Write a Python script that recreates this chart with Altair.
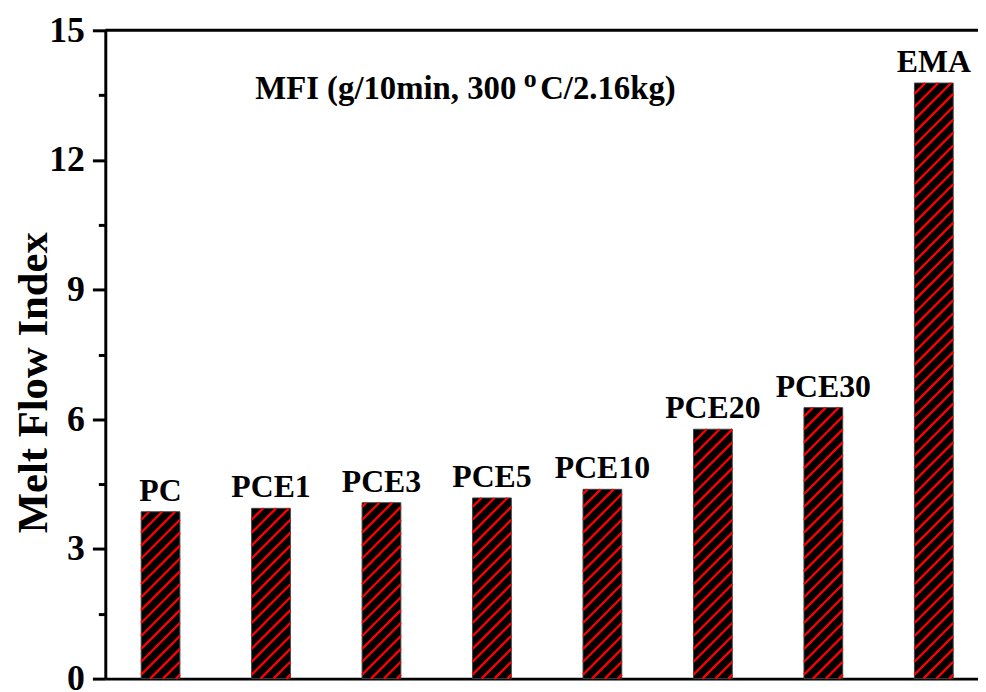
import altair as alt
import pandas as pd

# ---- data ----
categories = ["PC", "PCE1", "PCE3", "PCE5", "PCE10", "PCE20", "PCE30", "EMA"]
mfi = [3.86, 3.94, 4.07, 4.18, 4.38, 5.77, 6.27, 13.78]
y_ticks = [0, 1.5, 3, 4.5, 6, 7.5, 9, 10.5, 12, 13.5, 15]

# ---- layout constants ----
WIDTH, HEIGHT = 879, 653
XMIN, XMAX = -0.5, 7.4
YMAX = 15
SX = WIDTH / (XMAX - XMIN)
SY = HEIGHT / YMAX
BAR_HALF_PX = 19.5
HALF = BAR_HALF_PX / SX
SPACING = 13.0
FONT = "Liberation Serif"

bars = pd.DataFrame({
    "cat": categories,
    "idx": list(range(len(categories))),
    "value": mfi,
})
bars["xl"] = bars["idx"] - HALF
bars["xr"] = bars["idx"] + HALF
bars["zero"] = 0.0

# hatch segments (45 degrees in pixel space), clipped to each bar
segs = []
W = 2 * BAR_HALF_PX
for i, v in enumerate(mfi):
    H = v * SY
    c = -W + 4.0
    while c < H:
        xs = max(0.0, -c)
        xe = min(W, H - c)
        if xe > xs + 0.5:
            segs.append({
                "x": i + (xs - BAR_HALF_PX) / SX,
                "y": (xs + c) / SY,
                "x2": i + (xe - BAR_HALF_PX) / SX,
                "y2": (xe + c) / SY,
            })
        c += SPACING
hatch = pd.DataFrame(segs)

xscale = alt.Scale(domain=[XMIN, XMAX], nice=False, zero=False)
yscale = alt.Scale(domain=[0, YMAX], nice=False)

xaxis = alt.Axis(labels=False, ticks=False, grid=False, title=None,
                 domainWidth=3, domainColor="black")
yaxis = alt.Axis(
    values=y_ticks,
    labelExpr="datum.value % 3 === 0 ? datum.label : ''",
    tickSize={"condition": {"test": "datum.value % 3 === 0", "value": 13}, "value": 7},
    tickWidth=3, tickColor="black",
    domainWidth=3, domainColor="black",
    grid=False,
    labelFont=FONT, labelFontWeight="bold", labelFontSize=36, labelColor="black",
    labelPadding=8, labelFlush=False, labelOverlap=False,
    title="Melt Flow Index",
    titleFont=FONT, titleFontWeight="bold", titleFontSize=43, titleColor="black",
    titleAngle=-90, titleX=-59, titleY=HEIGHT / 2 + 28, titleAlign="center",
    titleBaseline="alphabetic",
)

base_bars = alt.Chart(bars).mark_rect(fill="black", stroke="#444", strokeWidth=1).encode(
    x=alt.X("xl:Q", scale=xscale, axis=xaxis),
    x2="xr:Q",
    y=alt.Y("zero:Q", scale=yscale, axis=yaxis),
    y2="value:Q",
)

hatch_layer = alt.Chart(hatch).mark_rule(color="#ff0000", strokeWidth=2.3).encode(
    x=alt.X("x:Q", scale=xscale),
    x2="x2:Q",
    y=alt.Y("y:Q", scale=yscale),
    y2="y2:Q",
)

labels = alt.Chart(bars).mark_text(
    font=FONT, fontWeight="bold", fontSize=32, color="black",
    baseline="alphabetic", align="center", dy=-11,
).encode(
    x=alt.X("idx:Q", scale=xscale),
    y=alt.Y("value:Q", scale=yscale),
    text="cat:N",
)

top_line = alt.Chart(pd.DataFrame({"a": [0]})).mark_rule(color="black", strokeWidth=3).encode(
    x=alt.value(0), x2=alt.value(WIDTH), y=alt.value(0),
)

ann = pd.DataFrame({"a": [0]})
t1 = alt.Chart(ann).mark_text(font=FONT, fontWeight="bold", fontSize=33, color="black",
                              align="right", baseline="alphabetic").encode(
    x=alt.value(414), y=alt.value(69), text=alt.value("MFI (g/10min, 300"))
t2 = alt.Chart(ann).mark_text(font=FONT, fontWeight="bold", fontSize=26, color="black",
                              align="center", baseline="alphabetic").encode(
    x=alt.value(428), y=alt.value(57), text=alt.value("o"))
t3 = alt.Chart(ann).mark_text(font=FONT, fontWeight="bold", fontSize=33, color="black",
                              align="left", baseline="alphabetic").encode(
    x=alt.value(438), y=alt.value(69), text=alt.value("C/2.16kg)"))

chart = alt.layer(base_bars, hatch_layer, labels, top_line, t1, t2, t3).properties(
    width=WIDTH, height=HEIGHT,
    padding={"left": 98, "top": 20, "right": 0, "bottom": 11},
    autosize=alt.AutoSizeParams(type="none"),
    background="white",
).configure_view(stroke=None)

chart.save("out.html", embed_options={"renderer": "svg", "actions": False})
